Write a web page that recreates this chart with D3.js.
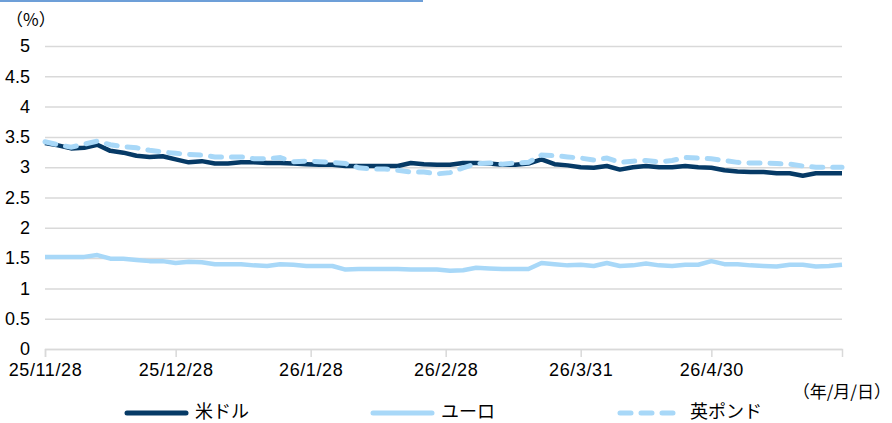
<!DOCTYPE html>
<html>
<head>
<meta charset="utf-8">
<script src="https://cdn.jsdelivr.net/npm/d3@7"></script>
<style>
  body { margin: 0; background: #fff; }
  svg text { font-family: "Noto Sans CJK JP", sans-serif; fill: #000; }
</style>
</head>
<body>
<svg id="canvas"></svg>
<script>
let dates = [
  "2025-11-28", "2025-12-01", "2025-12-04", "2025-12-07", "2025-12-10", "2025-12-13",
  "2025-12-16", "2025-12-19", "2025-12-22", "2025-12-25", "2025-12-28", "2025-12-31",
  "2026-01-03", "2026-01-06", "2026-01-09", "2026-01-12", "2026-01-15", "2026-01-18",
  "2026-01-21", "2026-01-24", "2026-01-27", "2026-01-30", "2026-02-02", "2026-02-05",
  "2026-02-08", "2026-02-11", "2026-02-14", "2026-02-17", "2026-02-20", "2026-02-23",
  "2026-02-26", "2026-03-01", "2026-03-04", "2026-03-07", "2026-03-10", "2026-03-13",
  "2026-03-16", "2026-03-19", "2026-03-22", "2026-03-25", "2026-03-28", "2026-03-31",
  "2026-04-03", "2026-04-06", "2026-04-09", "2026-04-12", "2026-04-15", "2026-04-18",
  "2026-04-21", "2026-04-24", "2026-04-27", "2026-04-30", "2026-05-03", "2026-05-06",
  "2026-05-09", "2026-05-12", "2026-05-15", "2026-05-18", "2026-05-21", "2026-05-24",
  "2026-05-27", "2026-05-30"
];

let usd = [
  3.40, 3.36, 3.31, 3.32, 3.37, 3.27, 3.24, 3.19, 3.17, 3.18, 3.13, 3.08,
  3.10, 3.06, 3.06, 3.08, 3.08, 3.07, 3.07, 3.06, 3.05, 3.04, 3.04, 3.02,
  3.02, 3.02, 3.02, 3.02, 3.07, 3.05, 3.04, 3.04, 3.07, 3.07, 3.06, 3.04,
  3.04, 3.06, 3.13, 3.05, 3.03, 3.00, 2.99, 3.02, 2.96, 3.00, 3.02, 3.00,
  3.00, 3.02, 3.00, 2.99, 2.95, 2.93, 2.92, 2.92, 2.90, 2.90, 2.86, 2.90,
  2.90, 2.90
];

let eur = [
  1.52, 1.52, 1.52, 1.52, 1.55, 1.49, 1.49, 1.47, 1.45, 1.45, 1.42, 1.44,
  1.43, 1.40, 1.40, 1.40, 1.38, 1.37, 1.40, 1.39, 1.37, 1.37, 1.37, 1.31,
  1.32, 1.32, 1.32, 1.32, 1.31, 1.31, 1.31, 1.29, 1.30, 1.34, 1.33, 1.32,
  1.32, 1.32, 1.42, 1.40, 1.38, 1.39, 1.37, 1.42, 1.37, 1.38, 1.41, 1.38,
  1.37, 1.39, 1.39, 1.45, 1.40, 1.40, 1.38, 1.37, 1.36, 1.39, 1.39, 1.36,
  1.37, 1.39
];

let gbp = [
  3.42, 3.37, 3.33, 3.38, 3.43, 3.37, 3.34, 3.32, 3.28, 3.25, 3.23, 3.21,
  3.20, 3.17, 3.17, 3.17, 3.14, 3.14, 3.16, 3.09, 3.10, 3.09, 3.08, 3.06,
  2.99, 2.97, 2.97, 2.95, 2.92, 2.92, 2.89, 2.91, 2.99, 3.06, 3.07, 3.05,
  3.07, 3.08, 3.20, 3.19, 3.17, 3.15, 3.12, 3.15, 3.08, 3.10, 3.11, 3.09,
  3.11, 3.16, 3.15, 3.14, 3.11, 3.08, 3.07, 3.07, 3.06, 3.05, 3.02, 3.00,
  3.00, 3.00
];

let xTicks = ["2025-11-28", "2025-12-28", "2026-01-28", "2026-02-28", "2026-03-31", "2026-04-30"];
let yTicks = [0, 0.5, 1, 1.5, 2, 2.5, 3, 3.5, 4, 4.5, 5];

let seriesNames = ["米ドル", "ユーロ", "英ポンド"];

let width = 892;
let height = 423;
let plotLeft = 45;
let plotRight = 842;
let plotTop = 46;
let plotBottom = 349;

let navy = "#063a66";
let lightBlue = "#a8d8f8";
let numFont = "\"Liberation Sans\", Arial, sans-serif";

let parseDate = d3.timeParse("%Y-%m-%d");

let canvas = d3.select("#canvas")
canvas.attr("width", width);
canvas.attr("height", height);

let xScale = d3.scaleTime()
               .domain([parseDate("2025-11-28"), parseDate("2026-05-30")])
               .range([plotLeft, plotRight]);

let yScale = d3.scaleLinear()
               .domain([0, 5])
               .range([plotBottom, plotTop]);

// blue rule across the top
canvas.append("line")
      .attr("x1", 0).attr("x2", 423)
      .attr("y1", 1).attr("y2", 1)
      .attr("stroke", "#6d9fd8")
      .attr("stroke-width", 2);

// gridlines
let grid = canvas.append("g")
      .attr("transform", "translate(" + plotLeft + ", 0)")
      .call(d3.axisLeft(yScale).tickValues(yTicks).tickSize(-(plotRight - plotLeft)).tickFormat(""));
grid.select(".domain").remove();
grid.selectAll("line").attr("stroke", "#d9d9d9").attr("stroke-width", 1.5);

// y axis labels
let yAxis = canvas.append("g")
      .attr("transform", "translate(" + plotLeft + ", 0)")
      .call(d3.axisLeft(yScale).tickValues(yTicks).tickSize(0).tickPadding(15).tickFormat(d3.format("")));
yAxis.select(".domain").remove();
yAxis.selectAll("text")
     .style("font-size", "18px")
     .style("font-family", numFont)
     .attr("fill", "#000");

// x axis
let xAxis = canvas.append("g")
      .attr("transform", "translate(0, " + plotBottom + ")")
      .call(d3.axisBottom(xScale)
              .tickValues(xTicks.map(parseDate))
              .tickSize(8)
              .tickPadding(6)
              .tickFormat(d3.timeFormat("%y/%-m/%-d")));
xAxis.select(".domain").attr("stroke", "#d9d9d9").attr("stroke-width", 1.5);
xAxis.selectAll("line").attr("stroke", "#d9d9d9").attr("stroke-width", 1.5);
xAxis.selectAll("text")
     .style("font-size", "18px")
     .style("font-family", numFont)
     .style("letter-spacing", "0.6px")
     .attr("fill", "#000");

canvas.append("text")
      .attr("x", 6).attr("y", 26)
      .style("font-size", "17px")
      .text("（%）");

canvas.append("text")
      .attr("x", 891).attr("y", 398)
      .attr("text-anchor", "end")
      .style("font-size", "17px")
      .text("（年/月/日）");

let lineGen = (vals) => d3.line()
      .x((d, i) => xScale(parseDate(dates[i])))
      .y((d) => yScale(d))(vals);

canvas.append("path")
      .attr("d", lineGen(eur))
      .attr("fill", "none")
      .attr("stroke", lightBlue)
      .attr("stroke-width", 4.5)
      .attr("stroke-linejoin", "round");

canvas.append("path")
      .attr("d", lineGen(usd))
      .attr("fill", "none")
      .attr("stroke", navy)
      .attr("stroke-width", 4.5)
      .attr("stroke-linejoin", "round");

canvas.append("path")
      .attr("d", lineGen(gbp))
      .attr("fill", "none")
      .attr("stroke", lightBlue)
      .attr("stroke-width", 5)
      .attr("stroke-linecap", "round")
      .attr("stroke-dasharray", "11,10");

// legend
let legendX = [125, 371, 618];
let legend = canvas.append("g");
seriesNames.forEach((name, i) => {
  legend.append("line")
        .attr("x1", legendX[i] + 2).attr("x2", legendX[i] + 61)
        .attr("y1", 413).attr("y2", 413)
        .attr("stroke", i == 0 ? navy : lightBlue)
        .attr("stroke-width", 5)
        .attr("stroke-linecap", "round")
        .attr("stroke-dasharray", i == 2 ? "11,10" : null);
  legend.append("text")
        .attr("x", legendX[i] + (i == 2 ? 72 : 70)).attr("y", 417.5)
        .style("font-size", "18px")
        .text(name);
});
</script>
</body>
</html>
